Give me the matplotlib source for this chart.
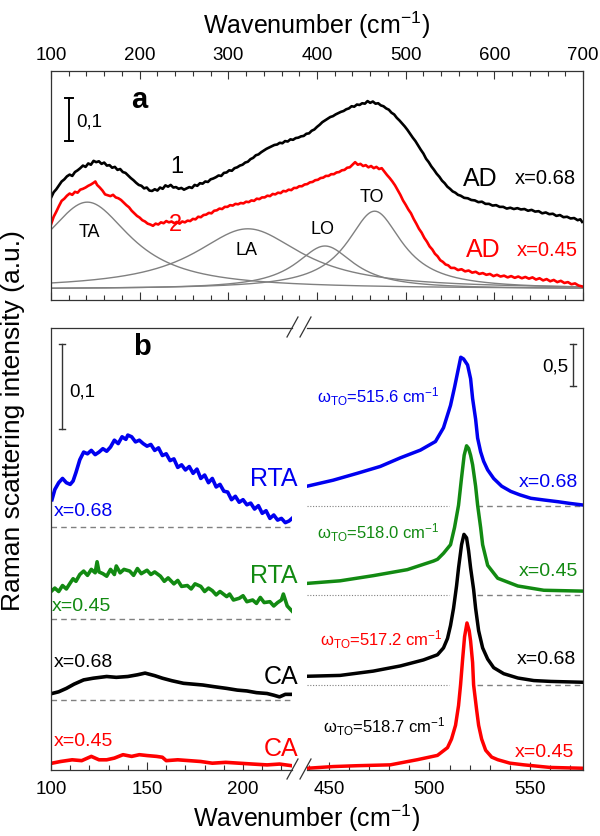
import matplotlib
matplotlib.use("Agg")
import matplotlib.pyplot as plt
from matplotlib.lines import Line2D
from matplotlib.ticker import MultipleLocator
import numpy as np

plt.rcParams["font.family"] = ["Liberation Sans", "DejaVu Sans"]
plt.rcParams["mathtext.fontset"] = "custom"
plt.rcParams["mathtext.rm"] = "Liberation Sans"
plt.rcParams["mathtext.it"] = "Liberation Sans:italic"
plt.rcParams["mathtext.bf"] = "Liberation Sans:bold"

# -------------------------------------------------------------
# Panel a: as-deposited spectra (wavenumber, intensity)
# -------------------------------------------------------------
ad068_x = list(range(100, 563, 3)) + list(range(566, 695, 4)) + [697, 699]
ad068_y = [0.212, 0.225, 0.232, 0.241, 0.250, 0.255, 0.262, 0.266, 0.263, 0.272,
           0.276, 0.281, 0.287, 0.284, 0.292, 0.289, 0.298, 0.295, 0.297, 0.291,
           0.294, 0.287, 0.288, 0.282, 0.284, 0.277, 0.279, 0.272, 0.270, 0.264,
           0.258, 0.253, 0.247, 0.242, 0.240, 0.234, 0.236, 0.229, 0.228, 0.232,
           0.229, 0.236, 0.233, 0.241, 0.238, 0.242, 0.236, 0.237, 0.233, 0.235,
           0.231, 0.234, 0.237, 0.235, 0.242, 0.240, 0.246, 0.245, 0.250, 0.249,
           0.255, 0.257, 0.260, 0.264, 0.263, 0.270, 0.271, 0.276, 0.275, 0.281,
           0.283, 0.287, 0.289, 0.294, 0.296, 0.302, 0.305, 0.311, 0.313, 0.318,
           0.322, 0.326, 0.329, 0.332, 0.335, 0.336, 0.340, 0.339, 0.344, 0.343,
           0.348, 0.347, 0.351, 0.352, 0.355, 0.356, 0.361, 0.362, 0.368, 0.371,
           0.377, 0.382, 0.388, 0.392, 0.396, 0.400, 0.402, 0.406, 0.409, 0.412,
           0.414, 0.418, 0.420, 0.425, 0.424, 0.429, 0.428, 0.432, 0.431, 0.437,
           0.433, 0.436, 0.431, 0.432, 0.427, 0.425, 0.420, 0.417, 0.410, 0.406,
           0.398, 0.392, 0.385, 0.378, 0.370, 0.361, 0.352, 0.344, 0.334, 0.324,
           0.315, 0.303, 0.295, 0.285, 0.277, 0.268, 0.261, 0.252, 0.246, 0.238,
           0.233, 0.227, 0.224, 0.219, 0.217, 0.212, 0.211, 0.207, 0.206, 0.202,
           0.203, 0.198, 0.198, 0.194, 0.195, 0.191, 0.191, 0.187, 0.189, 0.186,
           0.188, 0.185, 0.186, 0.182, 0.184, 0.180, 0.181, 0.176, 0.178, 0.174,
           0.175, 0.170, 0.172, 0.167, 0.168, 0.164, 0.165, 0.160, 0.162, 0.156]

ad045_x = (list(range(100, 149, 3)) + [150, 152] + list(range(155, 552, 3))
           + list(range(555, 696, 4)) + [699])
ad045_y = [0.150, 0.168, 0.180, 0.193, 0.205, 0.210, 0.217, 0.222, 0.219, 0.226,
           0.224, 0.231, 0.233, 0.236, 0.240, 0.243, 0.247, 0.250, 0.242, 0.236,
           0.229, 0.220, 0.218, 0.216, 0.219, 0.213, 0.211, 0.207, 0.201, 0.195,
           0.190, 0.182, 0.176, 0.170, 0.166, 0.160, 0.157, 0.152, 0.150, 0.147,
           0.152, 0.150, 0.155, 0.153, 0.158, 0.155, 0.157, 0.153, 0.156, 0.152,
           0.157, 0.155, 0.159, 0.158, 0.163, 0.162, 0.168, 0.167, 0.172, 0.173,
           0.177, 0.176, 0.182, 0.183, 0.187, 0.186, 0.191, 0.191, 0.195, 0.194,
           0.198, 0.197, 0.200, 0.199, 0.203, 0.202, 0.206, 0.205, 0.210, 0.209,
           0.213, 0.213, 0.217, 0.216, 0.221, 0.220, 0.224, 0.223, 0.228, 0.227,
           0.231, 0.230, 0.235, 0.235, 0.239, 0.239, 0.243, 0.244, 0.248, 0.249,
           0.253, 0.254, 0.258, 0.259, 0.263, 0.263, 0.267, 0.267, 0.271, 0.272,
           0.276, 0.277, 0.282, 0.283, 0.289, 0.295, 0.289, 0.291, 0.286, 0.288,
           0.283, 0.286, 0.281, 0.284, 0.279, 0.281, 0.273, 0.265, 0.258, 0.250,
           0.241, 0.230, 0.219, 0.206, 0.196, 0.185, 0.176, 0.163, 0.152, 0.140,
           0.131, 0.119, 0.110, 0.099, 0.092, 0.082, 0.076, 0.067, 0.063, 0.057,
           0.055, 0.049, 0.049, 0.044, 0.046, 0.041, 0.043, 0.038, 0.040, 0.035,
           0.037, 0.033, 0.035, 0.030, 0.033, 0.029, 0.031, 0.027, 0.030, 0.026,
           0.029, 0.025, 0.028, 0.024, 0.027, 0.022, 0.025, 0.020, 0.023, 0.018,
           0.021, 0.016, 0.019, 0.014, 0.016, 0.011, 0.013, 0.008, 0.006]

# fitted phonon bands: centre, half width, height
band_names = ["TA", "LA", "LO", "TO"]
band_centre = [141, 322, 409, 465]
band_hwhm = [60, 74, 40, 38]
band_height = [0.202, 0.140, 0.100, 0.181]

# -------------------------------------------------------------
# Panel b, low-frequency part
# -------------------------------------------------------------
rta068_x = [100.5, 102, 104, 106, 108, 110, 111.5, 113, 115, 117, 119, 121, 123,
            125, 127, 129, 131, 133, 135, 137, 139, 140, 142, 144, 146, 148, 150,
            152, 154, 156, 158, 160, 162, 164, 166, 168, 170, 172, 174, 176, 178,
            180, 182, 184, 186, 188, 190, 192, 194, 196, 198, 200, 202, 204, 206,
            208, 210, 212, 214, 216, 218, 220, 222, 224, 225.5]
rta068_y = [0.318, 0.330, 0.338, 0.343, 0.338, 0.336, 0.340, 0.350, 0.365, 0.374,
            0.372, 0.376, 0.371, 0.374, 0.378, 0.375, 0.380, 0.388, 0.384, 0.392,
            0.389, 0.394, 0.392, 0.386, 0.388, 0.384, 0.381, 0.383, 0.376, 0.379,
            0.370, 0.372, 0.364, 0.366, 0.356, 0.359, 0.353, 0.357, 0.349, 0.354,
            0.343, 0.347, 0.338, 0.343, 0.333, 0.336, 0.328, 0.327, 0.318, 0.322,
            0.315, 0.318, 0.312, 0.314, 0.307, 0.311, 0.302, 0.305, 0.296, 0.300,
            0.294, 0.296, 0.291, 0.293, 0.296]

rta045_x = [100.5, 102, 104, 106, 108, 110, 111.5, 113, 115, 117, 119, 121, 123,
            124, 125, 127, 129, 131, 133, 134, 136, 138, 141, 143, 145, 147, 150,
            152, 154, 157, 159, 161, 164, 166, 168, 171, 173, 175, 178, 180, 182,
            184, 186, 188, 191.5, 193, 195, 198, 200, 202, 205, 207, 209, 211, 214,
            216, 218, 220, 221, 223, 225.5]
rta045_y = [0.211, 0.214, 0.210, 0.217, 0.213, 0.220, 0.225, 0.222, 0.230, 0.234,
            0.229, 0.236, 0.232, 0.245, 0.233, 0.231, 0.228, 0.236, 0.230, 0.240,
            0.232, 0.236, 0.234, 0.229, 0.237, 0.231, 0.235, 0.230, 0.233, 0.228,
            0.222, 0.226, 0.219, 0.223, 0.216, 0.217, 0.213, 0.219, 0.216, 0.210,
            0.214, 0.211, 0.206, 0.210, 0.204, 0.207, 0.200, 0.202, 0.205, 0.198,
            0.200, 0.196, 0.203, 0.197, 0.198, 0.193, 0.197, 0.200, 0.207, 0.193,
            0.187]

ca068_x = [100.5, 104, 108, 112, 117, 122, 129, 134, 140, 145, 149, 154, 158,
           163, 169, 174, 179, 185, 191.5, 197, 202, 207, 212.5, 216, 219, 222, 225.5]
ca068_y = [0.090, 0.092, 0.096, 0.101, 0.106, 0.108, 0.110, 0.109, 0.110, 0.112,
           0.114, 0.111, 0.108, 0.105, 0.102, 0.101, 0.100, 0.098, 0.096, 0.094,
           0.093, 0.091, 0.090, 0.088, 0.086, 0.089, 0.089]

ca045_x = [100.5, 105, 111, 116, 121, 125, 129, 133, 137.5, 142, 146, 150, 155,
           158, 160, 166, 172, 178, 184, 191, 198, 205, 212.5, 219, 225.5]
ca045_y = [0.008, 0.010, 0.012, 0.011, 0.016, 0.012, 0.012, 0.014, 0.018, 0.016,
           0.018, 0.017, 0.016, 0.015, 0.011, 0.012, 0.011, 0.010, 0.008, 0.009,
           0.008, 0.007, 0.006, 0.007, 0.005]

low_baselines = [0.286, 0.178, 0.082]

# -------------------------------------------------------------
# Panel b, Si TO region
# -------------------------------------------------------------
hi068_x = [439, 452, 464, 475.5, 485.5, 495.5, 503, 507, 510.5, 512.5, 514, 515.6,
           517, 519, 520.5, 521.5, 523, 524, 525.5, 527, 529, 532, 536, 540.5, 545,
           550.5, 557, 564, 570, 577]
hi068_y = [3.30, 3.37, 3.45, 3.53, 3.63, 3.72, 3.82, 3.98, 4.24, 4.45, 4.62, 4.80,
           4.78, 4.71, 4.55, 4.32, 4.08, 3.86, 3.70, 3.59, 3.49, 3.39, 3.30, 3.24,
           3.20, 3.16, 3.14, 3.12, 3.10, 3.08]

hi045_x = [439, 455.5, 472, 489, 502, 504, 507, 510.5, 512.5, 514.5, 516, 517.3,
           518.5, 519.5, 520.5, 521.5, 523, 524, 525.5, 526.5, 529, 534, 544, 557,
           577]
hi045_y = [2.17, 2.20, 2.26, 2.33, 2.43, 2.45, 2.52, 2.62, 2.82, 3.08, 3.40, 3.66,
           3.77, 3.74, 3.66, 3.55, 3.30, 3.08, 2.82, 2.62, 2.38, 2.23, 2.14, 2.09,
           2.08]

hi068b_x = [439, 455.5, 472, 485.5, 497, 504, 507, 509, 510.5, 512, 513.5, 514.5,
            516, 517.2, 518.5, 519.5, 520.5, 522, 523, 524.5, 526.5, 529, 532, 537,
            544, 552, 560.5, 577]
hi068b_y = [1.09, 1.10, 1.15, 1.21, 1.28, 1.34, 1.42, 1.53, 1.68, 1.88, 2.14, 2.35,
            2.62, 2.74, 2.70, 2.55, 2.35, 2.10, 1.88, 1.62, 1.42, 1.29, 1.19, 1.12,
            1.07, 1.04, 1.03, 1.02]

hi045b_x = [439, 452, 464, 480.5, 494, 504, 509, 511, 513, 514.5, 515.5, 516.5,
            517.5, 518.7, 519.8, 520.5, 521.5, 522, 523.5, 524.5, 526, 528, 531, 534,
            540, 547, 560, 577]
hi045b_y = [0.02, 0.04, 0.05, 0.06, 0.12, 0.17, 0.26, 0.36, 0.52, 0.75, 0.99, 1.28,
            1.55, 1.71, 1.62, 1.50, 1.25, 0.99, 0.70, 0.52, 0.36, 0.23, 0.15, 0.12,
            0.08, 0.06, 0.03, 0.02]

hi_baselines = [3.07, 2.04, 0.99]

BLUE = "#0000f0"
GREEN = "#128a12"
RED = "#ff0000"
GRAY = "#808080"
FRAME = "#333333"


def style_frame(ax):
    for s in ax.spines.values():
        s.set_color(FRAME)
        s.set_linewidth(0.9)
    ax.tick_params(which="both", direction="in", color=FRAME, width=0.8,
                   labelsize=13.5)
    ax.tick_params(which="major", length=6)
    ax.tick_params(which="minor", length=3.5)
    ax.set_yticks([])


fig = plt.figure(figsize=(6, 8.37), dpi=100)

# -------------------------------------------------------------
# Panel a
# -------------------------------------------------------------
ax_a = fig.add_axes([51 / 600, 1 - 301 / 837, 532 / 600, 229 / 837])
style_frame(ax_a)
ax_a.set_xlim(100, 700)
ax_a.set_ylim(-0.0256, 0.507)
ax_a.xaxis.set_major_locator(MultipleLocator(100))
ax_a.xaxis.set_minor_locator(MultipleLocator(20))
ax_a.xaxis.set_ticks_position("both")
ax_a.tick_params(labeltop=True, labelbottom=False, pad=6)
ax_a.xaxis.set_label_position("top")
ax_a.set_xlabel("Wavenumber (cm$^{-1}$)", fontsize=18, labelpad=9)

xx = np.linspace(100, 700, 601)
for c, w, h in zip(band_centre, band_hwhm, band_height):
    ax_a.plot(xx, h / (1 + ((xx - c) / w) ** 2), color=GRAY, lw=1.0)

ax_a.plot(ad068_x, ad068_y, color="black", lw=1.9)
ax_a.plot(ad045_x, ad045_y, color=RED, lw=1.9)

ax_a.text(200, 0.442, "a", fontsize=21, fontweight="bold", ha="center", va="center")
ax_a.plot([120.3, 120.3], [0.344, 0.444], color="black", lw=1.4)
ax_a.plot([115.8, 124.8], [0.444, 0.444], color="black", lw=1.4)
ax_a.plot([115.8, 124.8], [0.344, 0.344], color="black", lw=1.4)
ax_a.text(129, 0.391, "0,1", fontsize=13.5, ha="left", va="center")
ax_a.text(242, 0.286, "1", fontsize=17, ha="center", va="center")
ax_a.text(240, 0.151, "2", fontsize=17, ha="center", va="center", color=RED)
label_pos = [(143, 0.133), (321, 0.093), (406, 0.140), (462, 0.216)]
for name, (lx, ly) in zip(band_names, label_pos):
    ax_a.text(lx, ly, name, fontsize=13, ha="center", va="center")
ax_a.text(584, 0.258, "AD", fontsize=18, ha="center", va="center")
ax_a.text(657, 0.260, "x=0.68", fontsize=14.5, ha="center", va="center")
ax_a.text(588, 0.093, "AD", fontsize=18, ha="center", va="center", color=RED)
ax_a.text(660, 0.093, "x=0.45", fontsize=14.5, ha="center", va="center", color=RED)

# -------------------------------------------------------------
# Panel b, left part
# -------------------------------------------------------------
ax_l = fig.add_axes([51 / 600, 1 - 771 / 837, 241 / 600, 442 / 837])
style_frame(ax_l)
ax_l.spines["right"].set_visible(False)
ax_l.set_xlim(100, 225.5)
ax_l.set_ylim(0, 0.52)
ax_l.xaxis.set_major_locator(MultipleLocator(50))
ax_l.xaxis.set_minor_locator(MultipleLocator(10))
ax_l.tick_params(pad=7)

for b in low_baselines:
    ax_l.plot([100, 225.5], [b, b], color=GRAY, lw=1.0, ls=(0, (4, 3)))

ax_l.plot(rta068_x, rta068_y, color=BLUE, lw=2.6)
ax_l.plot(rta045_x, rta045_y, color=GREEN, lw=2.6)
ax_l.plot(ca068_x, ca068_y, color="black", lw=2.6)
ax_l.plot(ca045_x, ca045_y, color=RED, lw=2.6)

ax_l.text(147.4, 0.499, "b", fontsize=21, fontweight="bold", ha="center", va="center")
ax_l.plot([105.7, 105.7], [0.401, 0.501], color=FRAME, lw=1.0)
ax_l.plot([104.1, 107.3], [0.501, 0.501], color=FRAME, lw=1.0)
ax_l.plot([104.1, 107.3], [0.401, 0.401], color=FRAME, lw=1.0)
ax_l.text(109.4, 0.446, "0,1", fontsize=13.5, ha="left", va="center")

ax_l.text(228.6, 0.343, "RTA", fontsize=18, ha="right", va="center", color=BLUE)
ax_l.text(101.6, 0.305, "x=0.68", fontsize=14, ha="left", va="center", color=BLUE)
ax_l.text(228.6, 0.229, "RTA", fontsize=18, ha="right", va="center", color=GREEN)
ax_l.text(100.6, 0.194, "x=0.45", fontsize=14, ha="left", va="center", color=GREEN)
ax_l.text(101.6, 0.128, "x=0.68", fontsize=14, ha="left", va="center")
ax_l.text(228.6, 0.110, "CA", fontsize=18, ha="right", va="center")
ax_l.text(101.6, 0.035, "x=0.45", fontsize=14, ha="left", va="center", color=RED)
ax_l.text(228.6, 0.026, "CA", fontsize=18, ha="right", va="center", color=RED)

# -------------------------------------------------------------
# Panel b, right part
# -------------------------------------------------------------
ax_r = fig.add_axes([307 / 600, 1 - 771 / 837, 276 / 600, 442 / 837])
style_frame(ax_r)
ax_r.spines["left"].set_visible(False)
ax_r.set_xlim(439, 576.5)
ax_r.set_ylim(0, 5.14)
ax_r.xaxis.set_major_locator(MultipleLocator(50))
ax_r.xaxis.set_minor_locator(MultipleLocator(10))
ax_r.tick_params(pad=7)

for b in hi_baselines:
    ax_r.plot([439, 509.5], [b, b], color=GRAY, lw=0.8, ls=(0, (1, 1.5)))
    ax_r.plot([523.5, 576.5], [b, b], color=GRAY, lw=1.0, ls=(0, (4, 3)))

ax_r.plot(hi068_x, hi068_y, color=BLUE, lw=2.5)
ax_r.plot(hi045_x, hi045_y, color=GREEN, lw=2.5)
ax_r.plot(hi068b_x, hi068b_y, color="black", lw=2.5)
ax_r.plot(hi045b_x, hi045b_y, color=RED, lw=2.5)

ax_r.plot([571.4, 571.4], [4.46, 4.95], color=FRAME, lw=1.0)
ax_r.plot([569.9, 572.9], [4.95, 4.95], color=FRAME, lw=1.0)
ax_r.plot([569.9, 572.9], [4.46, 4.46], color=FRAME, lw=1.0)
ax_r.text(569.4, 4.70, "0,5", fontsize=13.5, ha="right", va="center")

om = "\u03c9$_{\\mathrm{TO}}$=%s cm$^{-1}$"
ax_r.text(444, 4.35, om % "515.6", fontsize=12, ha="left", va="center", color=BLUE)
ax_r.text(444, 2.77, om % "518.0", fontsize=12, ha="left", va="center", color=GREEN)
ax_r.text(445.5, 1.53, om % "517.2", fontsize=12, ha="left", va="center", color=RED)
ax_r.text(447, 0.51, om % "518.7", fontsize=12, ha="left", va="center")
ax_r.text(574, 3.35, "x=0.68", fontsize=14, ha="right", va="center", color=BLUE)
ax_r.text(574, 2.32, "x=0.45", fontsize=14, ha="right", va="center", color=GREEN)
ax_r.text(573, 1.30, "x=0.68", fontsize=14, ha="right", va="center")
ax_r.text(572, 0.22, "x=0.45", fontsize=14, ha="right", va="center", color=RED)

# -------------------------------------------------------------
# Axis break marks and shared labels
# -------------------------------------------------------------
for y0 in (338, 780):
    for x0 in (287, 300):
        fig.add_artist(Line2D([x0 / 600, (x0 + 11) / 600],
                              [1 - y0 / 837, 1 - (y0 - 20) / 837],
                              color=FRAME, lw=0.9))

fig.text(307 / 600, 1 - 818 / 837, "Wavenumber (cm$^{-1}$)", fontsize=18,
         ha="center", va="center")
fig.text(13 / 600, 1 - 421 / 837, "Raman scattering intensity (a.u.)", fontsize=19,
         ha="center", va="center", rotation=90)

fig.savefig("out.png", dpi=100)
